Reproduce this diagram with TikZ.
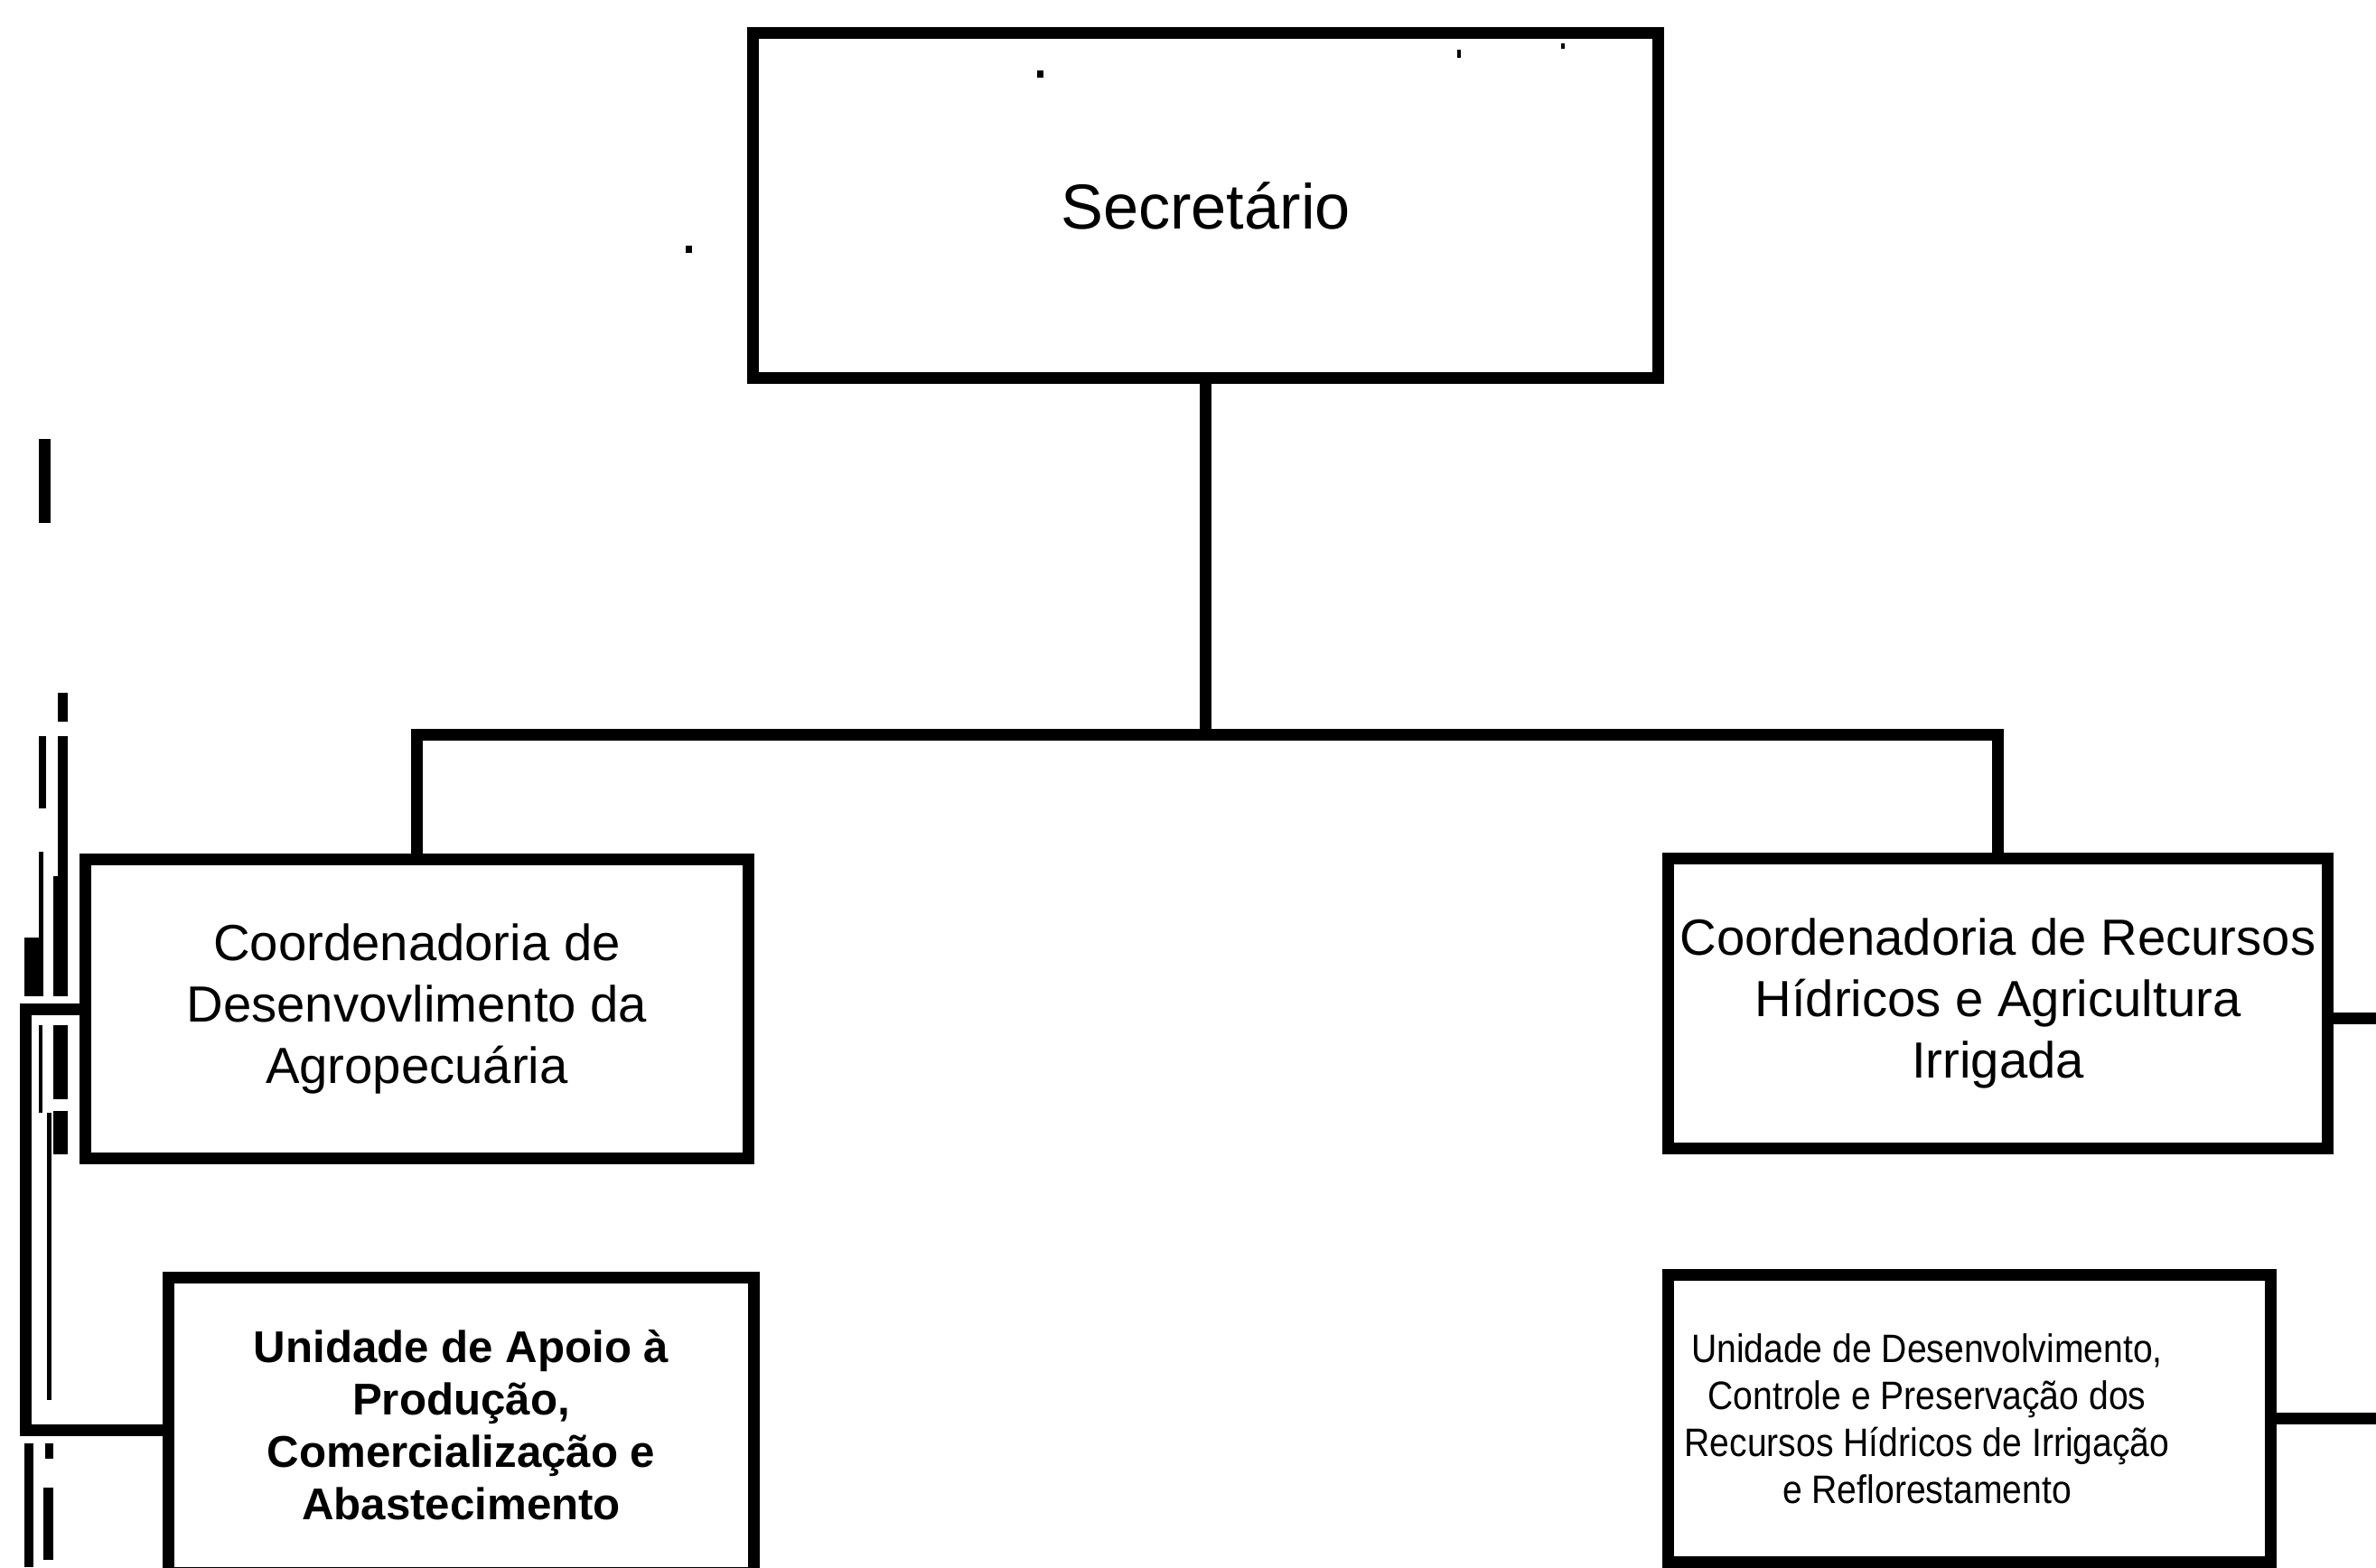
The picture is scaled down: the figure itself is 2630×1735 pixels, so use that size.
\documentclass[tikz,border=0pt]{standalone}
\usepackage{fontspec}
\setmainfont{Liberation Sans}
\newfontfamily\narrowsans[FakeStretch=0.89]{Liberation Sans}
\tikzstyle{unit} = [rectangle, draw=black, line width=3.7pt, text centered, align=center, inner sep=0pt]
\tikzstyle{link} = [line width=3.7pt]
\tikzstyle{scrap} = [fill=black]

\begin{document}
\begin{tikzpicture}[x=0.01cm, y=-0.01cm]

    \useasboundingbox (0,0) rectangle (2630,1735);

    \node (sec) [unit, minimum width=10.01cm, minimum height=3.81cm, font=\fontsize{20}{24}\selectfont] at (1334.5,227.5) {Secretário};
    \node (cda) [unit, minimum width=7.33cm, minimum height=3.30cm, font=\fontsize{16}{19.3}\selectfont] at (461.5,1117) {Coordenadoria de\\Desenvovlimento da\\Agropecuária};
    \node (crh) [unit, minimum width=7.29cm, minimum height=3.20cm, font=\fontsize{16}{19.3}\selectfont] at (2211.5,1111) {Coordenadoria de Recursos\\Hídricos e Agricultura\\Irrigada};
    \node (uap) [unit, minimum width=6.47cm, minimum height=3.26cm, font=\bfseries\fontsize{14}{16.5}\selectfont] at (510.5,1578) {Unidade de Apoio à\\Produção,\\Comercialização e\\Abastecimento};
    \node (udc) [unit, minimum width=6.66cm, minimum height=3.17cm] at (2180,1570.5) {};
    \node (udctxt) [align=center, inner sep=0pt, font=\narrowsans\fontsize{12.5}{14.8}\selectfont] at ([xshift=-4.7mm]udc.center) {Unidade de Desenvolvimento,\\Controle e Preservação dos\\Recursos Hídricos de Irrigação\\e Reflorestamento};

    \coordinate (bar) at (1334.5,813);
    \coordinate (brk) at (28.5,1118);
    \coordinate (crhend) at (2645,1127);
    \coordinate (udcend) at (2645,1571);

    \draw [link] (sec.south) -- (bar);
    \draw [link] (cda.north) |- (bar) -| (crh.north);
    \draw [link] (cda.west) -- (cda.west -| brk) |- ([yshift=-0.5mm]uap.west);
    \draw [link] (crh.east |- crhend) -- (crhend);
    \draw [link] (udc.east) -- (udc.east -| udcend);

    \fill [scrap] (43,486) rectangle (56,579);
    \fill [scrap] (64,767) rectangle (75,799);
    \fill [scrap] (64,815) rectangle (75,1103);
    \fill [scrap] (59,970) rectangle (75,1103);
    \fill [scrap] (43,815) rectangle (51,895);
    \fill [scrap] (43,943) rectangle (48,1103);
    \fill [scrap] (27,1038) rectangle (48,1103);
    \fill [scrap] (59,1135) rectangle (75,1217);
    \fill [scrap] (59,1230) rectangle (75,1278);
    \fill [scrap] (43,1135) rectangle (47,1232);
    \fill [scrap] (52,1232) rectangle (57,1550);
    \fill [scrap] (27,1598) rectangle (37,1735);
    \fill [scrap] (50,1598) rectangle (59,1615);
    \fill [scrap] (48,1647) rectangle (59,1727);
    \fill [scrap] (1148,78) rectangle (1155,86);
    \fill [scrap] (759,272) rectangle (766,280);
    \fill [scrap] (1613,55) rectangle (1617,64);
    \fill [scrap] (1728,48) rectangle (1732,54);

\end{tikzpicture}
\end{document}
